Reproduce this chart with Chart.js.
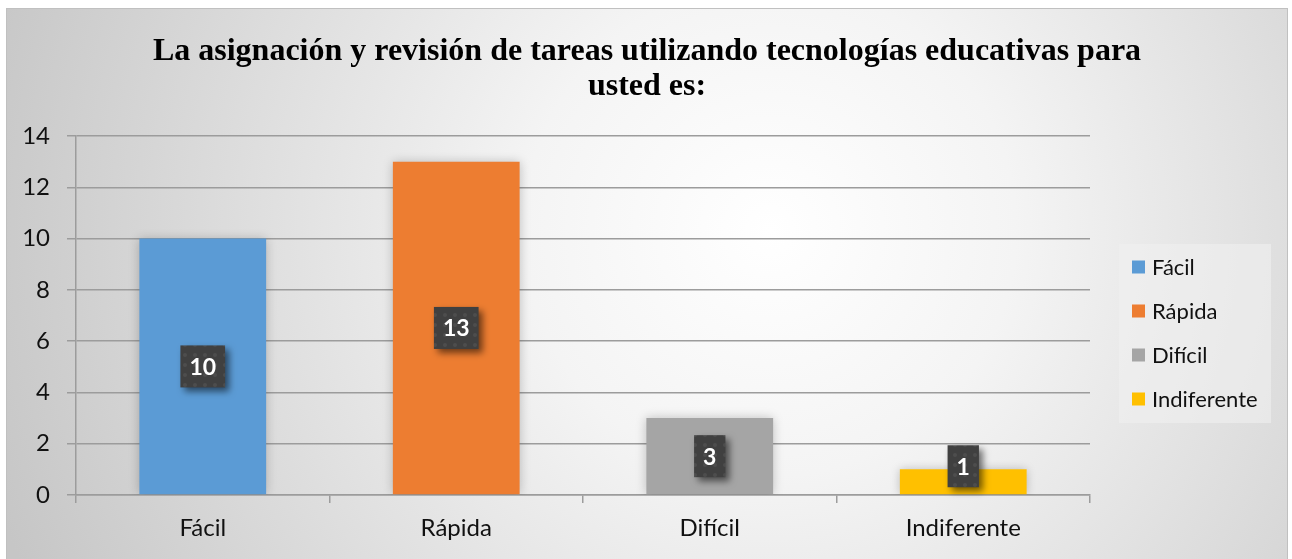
<!DOCTYPE html>
<html>
<head>
<meta charset="utf-8">
<script src="https://cdn.jsdelivr.net/npm/chart.js@4.4.1/dist/chart.umd.min.js"></script>
<style>
  html, body { margin: 0; padding: 0; background: #fff; }
  #wrap { width: 1292px; height: 559px; position: relative; }
</style>
</head>
<body>
<div id="wrap"><canvas id="chart"></canvas></div>
<script>
/* ── Data ── */
const CATEGORIES = ['Fácil', 'Rápida', 'Difícil', 'Indiferente'];
const VALUES = [10, 13, 3, 1];
const BAR_COLORS = ['#5B9BD5', '#ED7D31', '#A5A5A5', '#FFC000'];
const Y_TICKS = [0, 2, 4, 6, 8, 10, 12, 14];
const TITLE_LINES = [
  'La asignación y revisión de tareas utilizando tecnologías educativas para',
  'usted es:'
];

const SANS = 'Lato, "Noto Sans", sans-serif';
const SERIF = '"Liberation Serif", "Times New Roman", serif';
const GRID = '#9c9c9c';

/* Frame with the radial grey-to-white fill, plus the centred title */
const frameBackground = {
  id: 'frameBackground',
  beforeDraw(chart) {
    const ctx = chart.ctx;
    const x0 = 6, y0 = 8, x1 = 1288, y1 = 559;
    const g = ctx.createRadialGradient(770, 230, 0, 770, 230, 820);
    g.addColorStop(0, '#ffffff');
    g.addColorStop(0.3, '#f4f4f4');
    g.addColorStop(1, '#c6c6c6');
    ctx.save();
    ctx.fillStyle = g;
    ctx.fillRect(x0, y0, x1 - x0, y1 - y0);
    ctx.strokeStyle = '#c0c0c0';
    ctx.lineWidth = 1;
    ctx.strokeRect(x0 + 0.5, y0 + 0.5, x1 - x0 - 1, y1 - y0);

    /* title spans the whole frame, not just the plot */
    ctx.fillStyle = '#000';
    ctx.font = 'bold 32px ' + SERIF;
    ctx.textAlign = 'center';
    ctx.textBaseline = 'alphabetic';
    TITLE_LINES.forEach((line, i) => {
      ctx.fillText(line, (x0 + x1) / 2, 60 + i * 35);
    });
    ctx.restore();
  }
};

/* Soft shadow round the bars */
const barShadow = {
  id: 'barShadow',
  beforeDatasetsDraw(chart) {
    const ctx = chart.ctx;
    ctx.save();
    ctx.shadowColor = 'rgba(0,0,0,0.22)';
    ctx.shadowBlur = 10;
    ctx.shadowOffsetX = 0;
    ctx.shadowOffsetY = 0;
  },
  afterDatasetsDraw(chart) {
    chart.ctx.restore();
  }
};

/* Dark value boxes in the middle of each bar */
let dotPattern = null;
function getDotPattern(ctx) {
  if (dotPattern) return dotPattern;
  const c = document.createElement('canvas');
  c.width = 10; c.height = 10;
  const p = c.getContext('2d');
  p.fillStyle = '#404040';
  p.fillRect(0, 0, 10, 10);
  p.fillStyle = 'rgba(255,255,255,0.07)';
  p.beginPath();
  p.arc(5, 5, 2, 0, Math.PI * 2);
  p.fill();
  dotPattern = ctx.createPattern(c, 'repeat');
  return dotPattern;
}

const valueBoxes = {
  id: 'valueBoxes',
  afterDatasetsDraw(chart) {
    const ctx = chart.ctx;
    const meta = chart.getDatasetMeta(0);
    ctx.save();
    ctx.font = 'bold 23px ' + SANS;
    ctx.textAlign = 'center';
    ctx.textBaseline = 'middle';
    meta.data.forEach((bar, i) => {
      const { x, y, base } = bar.getProps(['x', 'y', 'base'], true);
      const text = String(VALUES[i]);
      const w = ctx.measureText(text).width + 18;
      const h = 42;
      let cy = (y + base) / 2;
      if (cy + h / 2 > base - 7) cy = base - 7 - h / 2;
      ctx.save();
      ctx.shadowColor = 'rgba(0,0,0,0.55)';
      ctx.shadowBlur = 7;
      ctx.shadowOffsetX = 4;
      ctx.shadowOffsetY = 4;
      ctx.fillStyle = getDotPattern(ctx);
      ctx.fillRect(x - w / 2, cy - h / 2, w, h);
      ctx.restore();
      ctx.fillStyle = '#ffffff';
      ctx.fillText(text, x, cy + 1);
    });
    ctx.restore();
  }
};

/* Legend box on the right, one entry per category */
const sideLegend = {
  id: 'sideLegend',
  afterDraw(chart) {
    const ctx = chart.ctx;
    const lx = 1119, ly = 244, lw = 152, lh = 179;
    ctx.save();
    ctx.fillStyle = 'rgba(240,240,240,0.6)';
    ctx.fillRect(lx, ly, lw, lh);
    ctx.font = '22px ' + SANS;
    ctx.textBaseline = 'middle';
    ctx.textAlign = 'left';
    CATEGORIES.forEach((name, i) => {
      const cy = ly + 23 + i * 44;
      ctx.fillStyle = BAR_COLORS[i];
      ctx.fillRect(lx + 13, cy - 6.5, 13, 13);
      ctx.fillStyle = '#111';
      ctx.fillText(name, lx + 33, cy + 1);
    });
    ctx.restore();
  }
};

new Chart(document.getElementById('chart'), {
  type: 'bar',
  data: {
    labels: CATEGORIES,
    datasets: [{
      data: VALUES,
      backgroundColor: BAR_COLORS,
      borderWidth: 0,
      barPercentage: 0.5,
      categoryPercentage: 1.0
    }]
  },
  options: {
    responsive: true,
    maintainAspectRatio: false,
    animation: false,
    layout: { padding: { left: 6, right: 202, top: 136, bottom: 0 } },
    plugins: {
      legend: { display: false },
      tooltip: { enabled: false },
      title: { display: false }
    },
    scales: {
      x: {
        offset: true,
        grid: { display: true, drawOnChartArea: false, drawTicks: true, tickLength: 8, color: GRID, lineWidth: 1.5, offset: true },
        border: { display: true, color: GRID, width: 1.5 },
        ticks: { color: '#111', font: { family: SANS, size: 24 }, padding: 11 },
        afterFit(scale) { scale.height = 64; }
      },
      y: {
        min: 0,
        max: 14,
        afterBuildTicks(scale) { scale.ticks = Y_TICKS.map(v => ({ value: v })); },
        grid: { color: GRID, lineWidth: 1.5, tickLength: 9 },
        border: { display: true, color: GRID, width: 1.5 },
        ticks: { color: '#111', font: { family: SANS, size: 24 }, padding: 17 },
        afterFit(scale) { scale.width = 70; }
      }
    }
  },
  plugins: [frameBackground, barShadow, valueBoxes, sideLegend]
});
</script>
</body>
</html>
